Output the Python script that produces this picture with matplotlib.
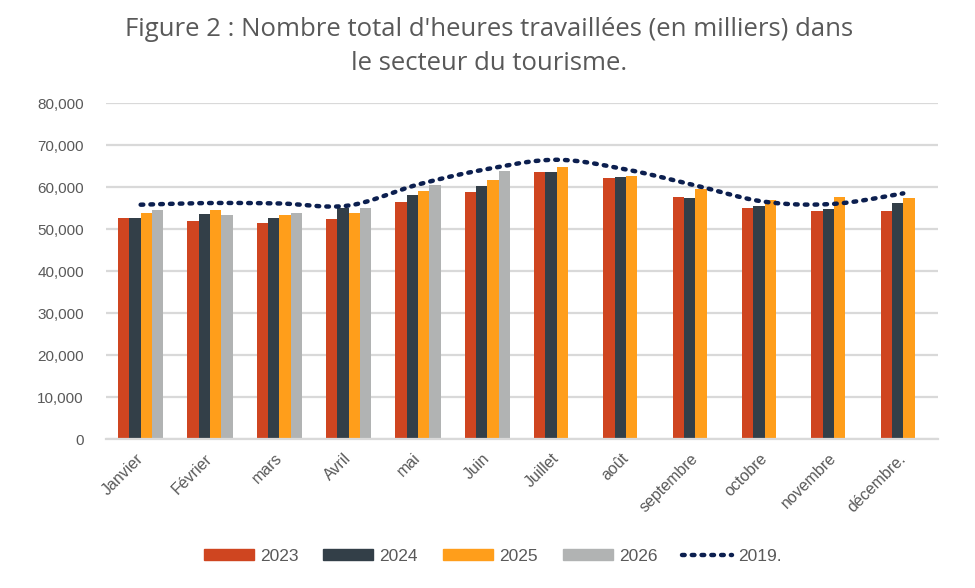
import numpy as np
import matplotlib.pyplot as plt
from matplotlib.lines import Line2D
from matplotlib.patches import Patch
from matplotlib.transforms import ScaledTranslation

months = ['Janvier', 'Février', 'mars', 'Avril', 'mai', 'Juin', 'Juillet',
          'août', 'septembre', 'octobre', 'novembre', 'décembre.']

# heures travaillées (milliers)
h2023 = [52800, 52100, 51600, 52500, 56600, 59000, 63700, 62300, 57800, 55200, 54400, 54400]
h2024 = [52800, 53700, 52800, 55200, 58300, 60400, 63700, 62500, 57500, 55600, 54900, 56400]
h2025 = [54000, 54700, 53500, 54000, 59200, 61800, 64900, 62800, 59700, 57100, 57800, 57500]
h2026 = [54700, 53500, 54000, 55200, 60600, 64000, np.nan, np.nan, np.nan, np.nan, np.nan, np.nan]
h2019 = [55900, 56300, 56200, 55700, 60700, 64400, 66600, 64300, 60500, 56600, 56100, 58600]

series = [('2023', h2023, '#CF4520'), ('2024', h2024, '#333F48'),
          ('2025', h2025, '#FF9E1B'), ('2026', h2026, '#B1B3B3')]

plt.rcParams['font.family'] = ['Liberation Sans', 'DejaVu Sans']

fig = plt.figure(figsize=(9.75, 5.88), dpi=100)
ax = fig.add_axes([0.1087, 0.2526, 0.8533, 0.5714])

x = np.arange(len(months))
w = 0.1625
for i, (lab, vals, col) in enumerate(series):
    ax.bar(x + (i - 1.5) * w, vals, w, color=col, zorder=2)


# smooth line like Excel (Catmull-Rom through the monthly points)
def smooth(xs, ys, n=30):
    xs = np.asarray(xs, float)
    ys = np.asarray(ys, float)
    px = np.concatenate([[xs[0]], xs, [xs[-1]]])
    py = np.concatenate([[ys[0]], ys, [ys[-1]]])
    ox, oy = [], []
    for k in range(1, len(px) - 2):
        t = np.linspace(0, 1, n, endpoint=False)
        for arr, out in ((px, ox), (py, oy)):
            p0, p1, p2, p3 = arr[k - 1], arr[k], arr[k + 1], arr[k + 2]
            m1 = (p2 - p0) / 2
            m2 = (p3 - p1) / 2
            h00 = 2 * t**3 - 3 * t**2 + 1
            h10 = t**3 - 2 * t**2 + t
            h01 = -2 * t**3 + 3 * t**2
            h11 = t**3 - t**2
            out.extend(h00 * p1 + h10 * m1 + h01 * p2 + h11 * m2)
    ox.append(xs[-1])
    oy.append(ys[-1])
    return np.array(ox), np.array(oy)


dots = (0, (0.6, 1.6))
sx, sy = smooth(x, h2019)
ax.plot(sx, sy, color='#0C1F4F', lw=3.2, linestyle=dots,
        dash_capstyle='round', zorder=3)

ax.set_xlim(-0.5, len(months) - 0.5)
ax.set_ylim(0, 80000)
ax.set_yticks(np.arange(0, 80001, 10000))
ax.set_yticklabels(['{:,}'.format(v) for v in range(0, 80001, 10000)])
ax.yaxis.grid(True, color='#D9D9D9', lw=1.6, zorder=0)
ax.set_axisbelow(True)
for s in ['top', 'right', 'left']:
    ax.spines[s].set_visible(False)
ax.spines['bottom'].set_color('#D9D9D9')
ax.spines['bottom'].set_linewidth(1.6)
ax.tick_params(axis='y', length=0, labelsize=11, labelcolor='#595959', pad=16)
ax.tick_params(axis='x', length=0, labelsize=11.5, labelcolor='#595959', pad=6)
ax.set_xticks(x)
ax.set_xticklabels(months, rotation=45, ha='right', rotation_mode='anchor')
shift = ScaledTranslation(-5 / 100, -3 / 100, fig.dpi_scale_trans)
for lab in ax.get_xticklabels():
    lab.set_transform(lab.get_transform() + shift)

title_font = ['Open Sans', 'DejaVu Sans']
fig.text(0.502, 0.949, "Figure 2 : Nombre total d'heures travaillées (en milliers) dans",
         ha='center', va='center', fontsize=18.5, color='#595959', family=title_font)
fig.text(0.502, 0.892, "le secteur du tourisme.",
         ha='center', va='center', fontsize=18.5, color='#595959', family=title_font)

handles = [Patch(color=c) for _, _, c in series]
handles.append(Line2D([0], [0], color='#0C1F4F', lw=3.2, linestyle=dots,
                      dash_capstyle='round'))
labels = [s[0] for s in series] + ['2019.']
leg = fig.legend(handles, labels, loc='center', bbox_to_anchor=(0.5056, 0.054), ncol=5,
                 frameon=False, fontsize=12.5, handlelength=2.88, handleheight=0.58,
                 columnspacing=1.44, handletextpad=0.35)
for t in leg.get_texts():
    t.set_color('#595959')

fig.savefig('out.png', dpi=100)
